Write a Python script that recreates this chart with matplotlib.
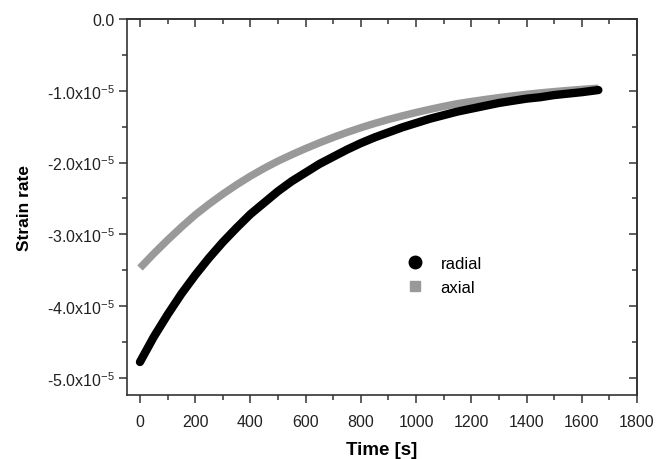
import matplotlib
matplotlib.use("Agg")
import matplotlib.pyplot as plt
from matplotlib.lines import Line2D
from matplotlib.ticker import FuncFormatter, MultipleLocator


TIME_S = [0, 50, 100, 150, 200, 250, 300, 350, 400, 450, 500, 550, 600,
          650, 700, 750, 800, 850, 900, 950, 1000, 1050, 1100, 1150, 1200,
          1250, 1300, 1350, 1400, 1450, 1500, 1550, 1600, 1660]

# strain rate values in units of 1e-5
RADIAL = [-4.78, -4.43, -4.12, -3.83, -3.57, -3.33, -3.11, -2.91, -2.72,
          -2.56, -2.40, -2.26, -2.14, -2.02, -1.92, -1.82, -1.73, -1.65,
          -1.58, -1.51, -1.45, -1.39, -1.34, -1.29, -1.25, -1.21, -1.17,
          -1.14, -1.11, -1.09, -1.06, -1.04, -1.02, -0.99]
AXIAL = [-3.47, -3.27, -3.08, -2.90, -2.73, -2.58, -2.44, -2.31, -2.19,
         -2.08, -1.98, -1.89, -1.805, -1.725, -1.65, -1.58, -1.515, -1.455,
         -1.40, -1.35, -1.303, -1.259, -1.218, -1.18, -1.15, -1.122, -1.096,
         -1.072, -1.05, -1.03, -1.012, -0.996, -0.981, -0.965]

SCALE = 1e-5
RADIAL_COLOR = "#000000"
AXIAL_COLOR = "#999999"
AXIS_COLOR = "#333333"

plt.rcParams["font.family"] = ["Liberation Sans", "DejaVu Sans"]
plt.rcParams["mathtext.fontset"] = "custom"
plt.rcParams["mathtext.rm"] = "Liberation Sans"
plt.rcParams["mathtext.it"] = "Liberation Sans"


def strain_label(value, pos):
    mantissa = value / SCALE
    if abs(mantissa) < 1e-9:
        return "0.0"
    return f"{mantissa:.1f}x10$^{{-5}}$"


def style_ticks(axis_obj, direction):
    axis_obj.tick_params(which="both", direction=direction, width=1.1,
                         color=AXIS_COLOR)
    axis_obj.tick_params(which="major", length=6)
    axis_obj.tick_params(which="minor", length=3.5)


def main():
    fig = plt.figure(figsize=(6.72, 4.60), dpi=100)
    ax = fig.add_axes([127 / 672, 64 / 460, 510 / 672, 376 / 460])

    ax.plot(
        TIME_S,
        [v * SCALE for v in AXIAL],
        color=AXIAL_COLOR,
        linewidth=5.4,
        solid_capstyle="butt",
    )
    ax.plot(
        TIME_S,
        [v * SCALE for v in RADIAL],
        color=RADIAL_COLOR,
        linewidth=6.0,
        solid_capstyle="round",
        solid_joinstyle="round",
    )

    ax.set_xlim(-47, 1800)
    ax.set_ylim(-5.24e-5, 0)

    ax.xaxis.set_major_locator(MultipleLocator(200))
    ax.xaxis.set_minor_locator(MultipleLocator(100))
    ax.yaxis.set_major_locator(MultipleLocator(1e-5))
    ax.yaxis.set_minor_locator(MultipleLocator(0.5e-5))
    ax.yaxis.set_major_formatter(FuncFormatter(strain_label))

    for spine in ax.spines.values():
        spine.set_linewidth(1.2)
        spine.set_color(AXIS_COLOR)

    style_ticks(ax, "out")
    ax.tick_params(labelsize=11.5, labelcolor="#222222")
    ax.tick_params(axis="x", pad=8)
    ax.tick_params(axis="y", pad=3)

    top = ax.secondary_xaxis("top")
    top.xaxis.set_major_locator(MultipleLocator(200))
    top.xaxis.set_minor_locator(MultipleLocator(100))
    right = ax.secondary_yaxis("right")
    right.yaxis.set_major_locator(MultipleLocator(1e-5))
    right.yaxis.set_minor_locator(MultipleLocator(0.5e-5))
    for sec in (top, right):
        style_ticks(sec, "in")
        sec.tick_params(labelleft=False, labelright=False,
                        labeltop=False, labelbottom=False)
        for spine in sec.spines.values():
            spine.set_linewidth(1.2)
            spine.set_color(AXIS_COLOR)

    ax.set_xlabel("Time [s]", fontsize=13.5, fontweight="bold", labelpad=8)
    ax.set_ylabel("Strain rate", fontsize=12.5, fontweight="bold",
                  labelpad=11)

    handles = [
        Line2D([], [], linestyle="none", marker="o", markersize=9,
               color=RADIAL_COLOR, label="radial"),
        Line2D([], [], linestyle="none", marker="s", markersize=7,
               color=AXIAL_COLOR, label="axial"),
    ]
    ax.legend(
        handles=handles,
        loc="center left",
        bbox_to_anchor=(0.502, 0.318),
        frameon=False,
        fontsize=12,
        handletextpad=0.55,
        labelspacing=0.55,
    )

    fig.savefig("out.png", dpi=100)
    plt.close(fig)


if __name__ == "__main__":
    main()
